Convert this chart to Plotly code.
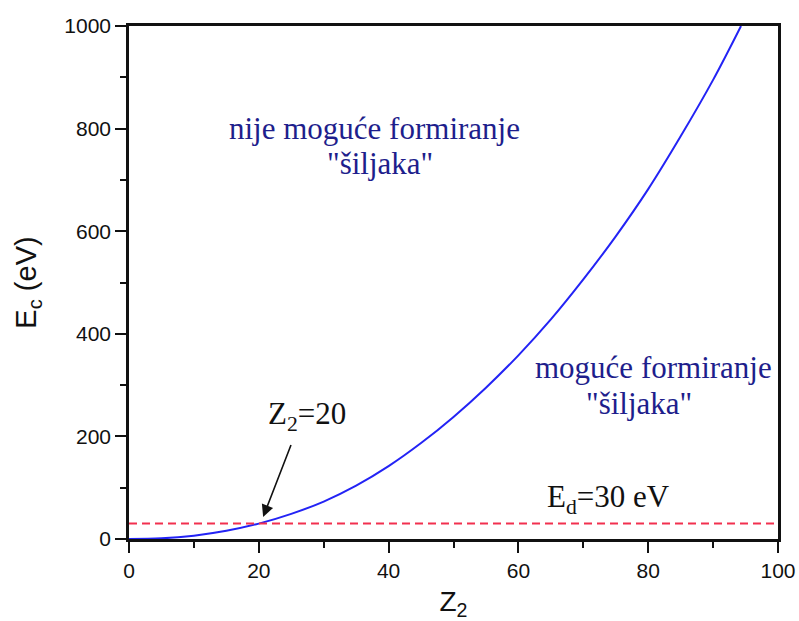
import plotly.graph_objects as go

# Critical energy E_c as a function of target atomic number Z2
z2 = [0, 5, 10, 15, 20, 25, 30, 35, 40, 45, 50, 55, 60, 65, 70, 75, 80, 85, 90, 94.3]
ec = [0, 1.3, 6.5, 16, 30, 49, 73, 104, 142, 187, 238, 295, 358, 428, 506, 590, 682, 785, 895, 1000]

# Displacement energy threshold
ed_value = 30
ed_z = [0, 100]

x_ticks = [0, 20, 40, 60, 80, 100]
y_ticks = [0, 200, 400, 600, 800, 1000]

fig = go.Figure()

fig.add_trace(go.Scatter(
    x=z2, y=ec, mode="lines", line=dict(color="#2323f5", width=2, shape="spline"),
    showlegend=False, hoverinfo="skip"))

fig.add_trace(go.Scatter(
    x=ed_z, y=[ed_value, ed_value], mode="lines",
    line=dict(color="#f2304f", width=2, dash="8px,5px"),
    showlegend=False, hoverinfo="skip"))

serif = "Liberation Serif, Times New Roman, serif"
sans = "Liberation Sans, Arial, sans-serif"
blue = "#1e1e8c"

annotations = [
    dict(x=37.8, y=800, text="nije moguće formiranje"),
    dict(x=38.7, y=732, text="\"šiljaka\""),
    dict(x=80.8, y=335, text="moguće formiranje"),
    dict(x=78.6, y=264, text="\"šiljaka\""),
]
for a in annotations:
    fig.add_annotation(x=a["x"], y=a["y"], text=a["text"], showarrow=False,
                       font=dict(family=serif, size=31, color=blue),
                       xanchor="center", yanchor="middle")

fig.add_annotation(x=27.4, y=240, text="Z<sub>2</sub>=20", showarrow=False,
                   font=dict(family=serif, size=31, color="#111111"),
                   xanchor="center", yanchor="middle")
fig.add_annotation(x=73.9, y=78, text="E<sub>d</sub>=30 eV", showarrow=False,
                   font=dict(family=serif, size=31, color="#111111"),
                   xanchor="center", yanchor="middle")

# Arrow pointing at the crossing of the curve and the threshold line
fig.add_annotation(x=20.67, y=43, ax=25.05, ay=186, axref="x", ayref="y",
                   text="", showarrow=True, arrowhead=2, arrowsize=1.5,
                   arrowwidth=1.6, arrowcolor="#111111")

axis_font = dict(family=sans, size=21, color="#111111")

fig.update_xaxes(
    range=[0, 100], tickvals=x_ticks, ticks="outside", ticklen=11, tickwidth=2.4,
    tickcolor="#111111", showline=True, linecolor="#111111", linewidth=2.6, mirror=True,
    showgrid=False, zeroline=False, tickfont=axis_font, automargin=False,
    minor=dict(dtick=10, ticks="outside", ticklen=6, tickwidth=2.4, tickcolor="#111111"),
    title=dict(text="Z<sub>2</sub>", font=dict(family=sans, size=28, color="#111111"),
               standoff=16))
fig.update_yaxes(
    range=[0, 1000], tickvals=y_ticks, ticks="outside", ticklen=11, tickwidth=2.4,
    tickcolor="#111111", showline=True, linecolor="#111111", linewidth=2.6, mirror=True,
    showgrid=False, zeroline=False, tickfont=axis_font, automargin=False,
    minor=dict(dtick=100, ticks="outside", ticklen=6, tickwidth=2.4, tickcolor="#111111"),
    title=dict(text="E<sub>c</sub> (eV)", font=dict(family=sans, size=29, color="#111111"),
               standoff=20))

fig.update_layout(
    width=799, height=621,
    margin=dict(l=129, r=21, t=26, b=82),
    paper_bgcolor="white", plot_bgcolor="white",
)

fig.write_html("out.html")
